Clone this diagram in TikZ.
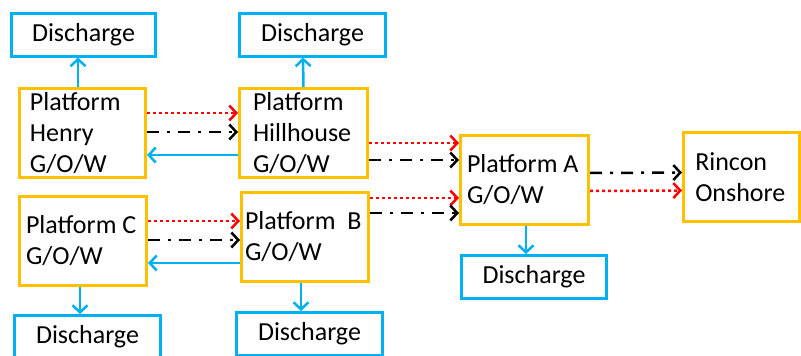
\documentclass[tikz,border=0pt]{standalone}
\usepackage{fontspec}
\setmainfont{Carlito}
\usepackage{tikz}
\usetikzlibrary{arrows.meta, positioning}
\definecolor{boxgold}{HTML}{FFC000}
\definecolor{dischblue}{HTML}{00B0F0}

\begin{document}
\begin{tikzpicture}[x=1pt, y=-1pt,
  platform/.style={rectangle, draw=boxgold, line width=3pt, align=flush left,
    minimum height=89pt, inner ysep=0pt, font=\fontsize{26}{31}\selectfont},
  discharge/.style={rectangle, draw=dischblue, line width=3pt,
    minimum height=43pt, minimum width=146pt, font=\fontsize{26}{31}\selectfont},
  arr/.style={line width=2.5pt, -{Straight Barb[length=7pt, width=15pt]}},
  water/.style={arr, dischblue},
  gasflow/.style={arr, red, dash pattern=on 3pt off 3pt},
  oilflow/.style={arr, black, dash pattern=on 12pt off 8pt on 3pt off 8pt},
]
\useasboundingbox (0,0) rectangle (801,356);

\node[platform, text width=105pt, inner xsep=10.5pt] (henry) at (82.5,133) {Platform\\Henry\\G/O/W};
\node[platform, text width=101pt, inner xsep=13.5pt] (hill) at (303.5,133) {Platform\\Hillhouse\\G/O/W};
\node[platform, text width=114pt, inner xsep=6.5pt] (platC) at (83,240.5) {Platform C\\G/O/W};
\node[platform, text width=120pt, inner xsep=3.5pt] (platB) at (305,237) {Platform\ \ B\\G/O/W};
\node[platform, text width=115pt, inner xsep=6.5pt] (platA) at (524.5,179.5) {Platform A\\G/O/W};
\node[platform, text width=92pt, inner xsep=11.75pt] (rincon) at (741.25,177) {Rincon\\Onshore};

\node[discharge, minimum width=144pt] (dHenry) at (83.5,34.5) {Discharge};
\node[discharge] (dHill) at (312.5,34.5) {Discharge};
\node[discharge] (dC) at (87.5,337) {Discharge};
\node[discharge] (dB) at (309.5,334) {Discharge};
\node[discharge, minimum width=145pt] (dA) at (534,277) {Discharge};

\draw[gasflow] ([yshift=20pt]henry.east) -- ([yshift=20pt]hill.west);
\draw[oilflow] ([yshift=1pt]henry.east) -- ([yshift=1pt]hill.west);
\draw[water] ([yshift=-22pt]hill.west) -- ([yshift=-22pt]henry.east);

\draw[gasflow] ([yshift=-10pt]hill.east) -- ([yshift=36.5pt]platA.west);
\draw[oilflow] ([yshift=-27pt]hill.east) -- ([yshift=19.5pt]platA.west);
\draw[gasflow] ([yshift=39pt]platB.east) -- ([yshift=-18.5pt]platA.west);
\draw[oilflow] ([yshift=24pt]platB.east) -- ([yshift=-33.5pt]platA.west);

\draw[gasflow] ([yshift=19.5pt]platC.east) -- ([yshift=16pt]platB.west);
\draw[oilflow] ([yshift=0.5pt]platC.east) -- ([yshift=-3pt]platB.west);
\draw[water] ([yshift=-26pt]platB.west) -- ([yshift=-22.5pt]platC.east);

\draw[oilflow] ([yshift=6.5pt]platA.east) -- ([yshift=4.5pt]rincon.west);
\draw[gasflow] ([yshift=-11.5pt]platA.east) -- ([yshift=-13.5pt]rincon.west);

\draw[water] ([xshift=-4.5pt]henry.north) -- ([xshift=-5.5pt]dHenry.south);
\draw[water] (hill.north) -- ([xshift=-9.5pt]dHill.south);
\draw[water] ([xshift=-3pt]platC.south) -- ([xshift=-7.5pt]dC.north);
\draw[water] ([xshift=-4pt]platB.south) -- ([xshift=-8.5pt]dB.north);
\draw[water] ([xshift=1.5pt]platA.south) -- ([xshift=-8pt]dA.north);

\end{tikzpicture}
\end{document}
